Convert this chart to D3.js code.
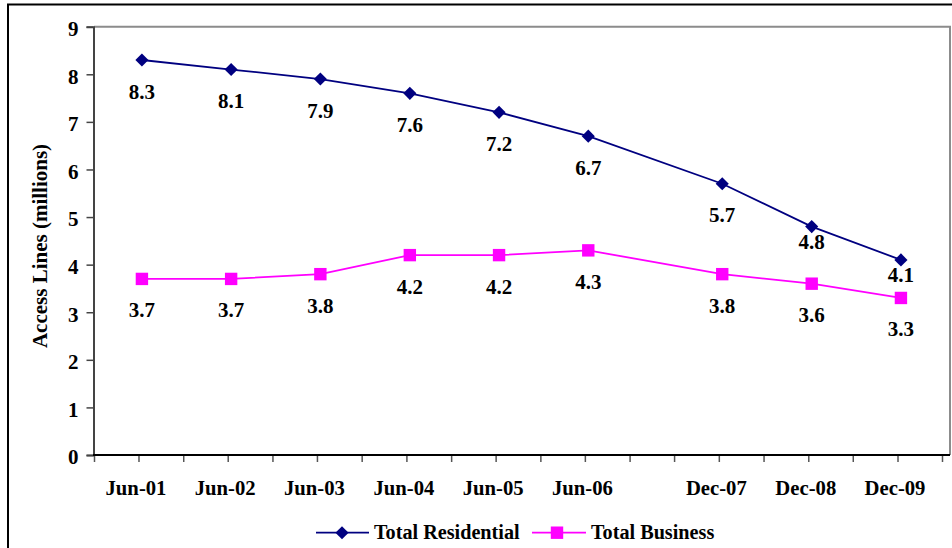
<!DOCTYPE html>
<html>
<head>
<meta charset="utf-8">
<script src="https://cdn.jsdelivr.net/npm/d3@7"></script>
<style>
  html, body { margin: 0; padding: 0; background: #fff; }
  svg { display: block; }
  text { font-family: "Liberation Serif", "Times New Roman", serif; font-weight: bold; fill: #000; }
</style>
</head>
<body>
<svg id="chart" width="952" height="548"></svg>
<script>
// ---- data ----
const categories = ["Jun-01", "Jun-02", "Jun-03", "Jun-04", "Jun-05", "Jun-06", "Dec-07", "Dec-08", "Dec-09"];
const periodMonths = ["2001-06", "2002-06", "2003-06", "2004-06", "2005-06", "2006-06", "2007-12", "2008-12", "2009-12"];
const residential = [8.3, 8.1, 7.9, 7.6, 7.2, 6.7, 5.7, 4.8, 4.1];
const business = [3.7, 3.7, 3.8, 4.2, 4.2, 4.3, 3.8, 3.6, 3.3];
const yTicks = [0, 1, 2, 3, 4, 5, 6, 7, 8, 9];
const seriesNames = ["Total Residential", "Total Business"];

// ---- layout ----
const svg = d3.select("#chart");
const W = 952, H = 548;
const plot = { left: 94, top: 26.7, right: 950, bottom: 455 };
const parse = d3.timeParse("%Y-%m");
const monthStart = periodMonths.map(parse);
const midMonth = monthStart.map(d => d3.timeDay.offset(d, 14));

const x = d3.scaleTime()
  .domain([new Date(2000, 11, 1), new Date(2010, 5, 1)])
  .range([plot.left, 942]);
const y = d3.scaleLinear().domain([0, 9]).range([plot.bottom, plot.top]);

svg.append("rect").attr("width", W).attr("height", H).attr("fill", "#fff");
// outer frame
svg.append("rect").attr("x", 8).attr("y", 4.5).attr("width", 1200).attr("height", 1200)
  .attr("fill", "none").attr("stroke", "#000").attr("stroke-width", 2);

// plot area border (top / right)
svg.append("path")
  .attr("d", `M${plot.left},${plot.top}H${plot.right}V${plot.bottom}`)
  .attr("fill", "none").attr("stroke", "#8c8c8c").attr("stroke-width", 2);

// y axis
const yAxis = svg.append("g").attr("transform", `translate(${plot.left - 0.5},0)`)
  .call(d3.axisLeft(y).tickValues(yTicks).tickSize(7).tickPadding(8).tickFormat(d3.format("d")));
yAxis.select(".domain").attr("stroke", "#444").attr("stroke-width", 2);
yAxis.selectAll(".tick line").attr("stroke", "#444").attr("stroke-width", 1.5);
yAxis.selectAll(".tick text").attr("font-size", 21).attr("font-family", "Liberation Serif, serif")
  .attr("font-weight", "bold").attr("dy", "0.42em").attr("fill", "#000");

// x axis: half-year tick marks
const tickDates = d3.timeMonth.range(new Date(2000, 11, 1), new Date(2010, 5, 2), 6);
const xAxis = svg.append("g").attr("transform", `translate(0,${plot.bottom})`)
  .call(d3.axisBottom(x).tickValues(tickDates).tickSize(7).tickFormat(""));
xAxis.select(".domain").remove();
xAxis.selectAll(".tick line").attr("stroke", "#555").attr("stroke-width", 1.5);
svg.append("line").attr("x1", plot.left - 1).attr("x2", plot.right)
  .attr("y1", plot.bottom).attr("y2", plot.bottom)
  .attr("stroke", "#000").attr("stroke-width", 2);

// x labels at category months
const xLab = svg.append("g").attr("transform", `translate(0,${plot.bottom})`)
  .call(d3.axisBottom(x).tickValues(monthStart).tickSize(0).tickPadding(25.5)
    .tickFormat((d, i) => categories[i]));
xLab.select(".domain").remove();
xLab.selectAll(".tick text").attr("font-size", 20.7).attr("font-family", "Liberation Serif, serif")
  .attr("font-weight", "bold").attr("fill", "#000").attr("dx", -3);

// y title
svg.append("text")
  .attr("transform", `translate(47,246) rotate(-90)`)
  .attr("text-anchor", "middle")
  .attr("font-size", 21)
  .text("Access Lines (millions)");

// series
const colors = ["#000080", "#ff00ff"];
const data = [residential, business];
const line = d3.line().x((d, i) => x(midMonth[i])).y(d => y(d));

data.forEach((vals, s) => {
  svg.append("path").datum(vals).attr("d", line)
    .attr("fill", "none").attr("stroke", colors[s]).attr("stroke-width", 1.8);
});

function drawMarker(g, s, cx, cy) {
  if (s === 0) {
    g.append("path").attr("d", d3.symbol().type(d3.symbolSquare).size(86)())
      .attr("transform", `translate(${cx},${cy}) rotate(45)`)
      .attr("fill", colors[0]);
  } else {
    g.append("rect").attr("x", cx - 6.2).attr("y", cy - 6.2).attr("width", 12.4).attr("height", 12.4)
      .attr("fill", colors[1]);
  }
}

data.forEach((vals, s) => {
  const g = svg.append("g");
  vals.forEach((v, i) => drawMarker(g, s, x(midMonth[i]), y(v)));
});

// data labels
data.forEach((vals, s) => {
  const other = data[1 - s];
  svg.append("g").selectAll("text").data(vals).join("text")
    .attr("x", (d, i) => x(midMonth[i]))
    .attr("y", (d, i) => {
      const below = other[i] < d && d - other[i] < 1.2;
      return y(d) + (below ? 22 : 38.5);
    })
    .attr("text-anchor", "middle")
    .attr("font-size", 21)
    .text(d => d3.format(".1f")(d));
});

// legend
const lg = svg.append("g");
const legendItems = [
  { x1: 316, x2: 369, mx: 342, tx: 374 },
  { x1: 532, x2: 586, mx: 557, tx: 591 }
];
legendItems.forEach((it, s) => {
  lg.append("line").attr("x1", it.x1).attr("x2", it.x2).attr("y1", 532.7).attr("y2", 532.7)
    .attr("stroke", colors[s]).attr("stroke-width", 1.8);
  drawMarker(lg, s, it.mx, 532.7);
  lg.append("text").attr("x", it.tx).attr("y", 539).attr("font-size", 20.2).text(seriesNames[s]);
});
</script>
</body>
</html>
